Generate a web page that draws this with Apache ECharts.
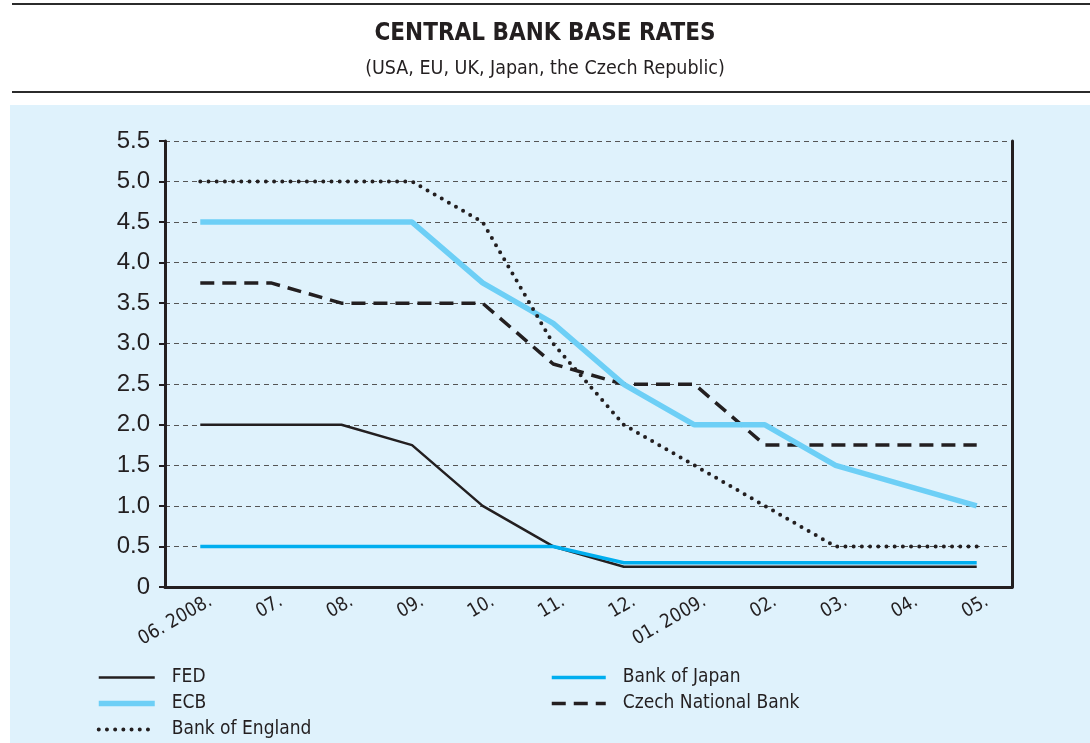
<!DOCTYPE html>
<html>
<head>
<meta charset="utf-8">
<script src="https://cdn.jsdelivr.net/npm/echarts@6/dist/echarts.min.js"></script>
<style>
  html, body { margin: 0; padding: 0; background: #fff; }
  #chart { width: 1090px; height: 743px; }
</style>
</head>
<body>
<div id="chart"></div>
<script>
// months on the x axis
const months = ['06. 2008.', '07.', '08.', '09.', '10.', '11.', '12.', '01. 2009.', '02.', '03.', '04.', '05.'];

// base rates, %
const fed = [2, 2, 2, 1.75, 1, 0.5, 0.25, 0.25, 0.25, 0.25, 0.25, 0.25];
const ecb = [4.5, 4.5, 4.5, 4.5, 3.75, 3.25, 2.5, 2, 2, 1.5, 1.25, 1];
const boe = [5, 5, 5, 5, 4.5, 3, 2, 1.5, 1, 0.5, 0.5, 0.5];
const boj = [0.5, 0.5, 0.5, 0.5, 0.5, 0.5, 0.3, 0.3, 0.3, 0.3, 0.3, 0.3];
const cnb = [3.75, 3.75, 3.5, 3.5, 3.5, 2.75, 2.5, 2.5, 1.75, 1.75, 1.75, 1.75];

const dark = '#231f20';
const narrow = "'Liberation Sans Narrow', 'DejaVu Sans Condensed', sans-serif";

const myChart = echarts.init(document.getElementById('chart'), null, {renderer: 'canvas'});

// both legend blocks share this look
const legendBase = {
  orient: 'vertical',
  top: 668,
  padding: 0,
  itemHeight: 14, itemGap: 7,
  itemStyle: {opacity: 0}, // hide the symbol dot, keep the line
  lineStyle: {width: 'inherit', type: 'inherit', cap: 'inherit'},
  textStyle: {fontFamily: narrow, fontSize: 19, color: dark, padding: [0, 0, 0, 12]}
};

const option = {
  animation: false,
  backgroundColor: '#ffffff',
  graphic: [
    // light blue panel
    {type: 'rect', z: -10, shape: {x: 10, y: 105, width: 1080, height: 640}, style: {fill: '#dff2fc'}},
    {type: 'line', shape: {x1: 12, y1: 4, x2: 1090, y2: 4}, style: {stroke: '#2b2b2b', lineWidth: 2}},
    {type: 'line', shape: {x1: 12, y1: 92, x2: 1090, y2: 92}, style: {stroke: '#2b2b2b', lineWidth: 2}}
  ],
  title: {
    text: 'CENTRAL BANK BASE RATES',
    subtext: '(USA, EU, UK, Japan, the Czech Republic)',
    left: 'center',
    top: 17,
    itemGap: 13,
    textStyle: {fontFamily: narrow, fontWeight: 'bold', fontSize: 24, color: dark},
    subtextStyle: {fontFamily: narrow, fontSize: 19.5, color: dark}
  },
  legend: [
    Object.assign({data: ['FED', 'ECB', 'Bank of England'], left: 96, itemWidth: 56}, legendBase),
    Object.assign({data: ['Bank of Japan', 'Czech National Bank'], left: 550, itemWidth: 54}, legendBase)
  ],
  grid: {left: 165, right: 78, top: 141, bottom: 156},
  xAxis: {
    type: 'category',
    data: months,
    boundaryGap: true,
    axisLine: {lineStyle: {color: dark, width: 3}},
    axisTick: {length: 8, lineStyle: {color: dark, width: 2}},
    axisLabel: {
      interval: 0,
      rotate: 30,
      margin: 19,
      padding: [0, -12, 0, 0],
      fontFamily: narrow,
      fontSize: 19,
      color: dark
    }
  },
  yAxis: [
    {
      type: 'value',
      min: 0, max: 5.5, interval: 0.5,
      axisLine: {show: true, lineStyle: {color: dark, width: 3}},
      axisTick: {show: true, length: 6, lineStyle: {color: dark, width: 2}},
      axisLabel: {
        margin: 15,
        fontFamily: "'Liberation Sans', Arial, sans-serif",
        fontSize: 24,
        color: dark,
        formatter: v => v === 0 ? '0' : v.toFixed(1)
      },
      splitLine: {lineStyle: {color: '#555', width: 1, type: [5, 4]}}
    },
    {
      // right border line
      type: 'value', position: 'right',
      min: 0, max: 5.5, interval: 0.5,
      axisLine: {show: true, lineStyle: {color: dark, width: 3}},
      axisTick: {show: false}, axisLabel: {show: false}, splitLine: {show: false}
    }
  ],
  series: [
    {
      name: 'Czech National Bank', type: 'line', data: cnb, symbol: 'none', z: 2,
      lineStyle: {color: dark, width: 3.5, type: [14, 8]}, itemStyle: {color: dark}
    },
    {
      name: 'ECB', type: 'line', data: ecb, symbol: 'none', z: 3,
      lineStyle: {color: '#6dcff6', width: 5.5}, itemStyle: {color: '#6dcff6'}
    },
    {
      name: 'FED', type: 'line', data: fed, symbol: 'none', z: 4,
      lineStyle: {color: dark, width: 2.5}, itemStyle: {color: dark}
    },
    {
      name: 'Bank of Japan', type: 'line', data: boj, symbol: 'none', z: 5,
      lineStyle: {color: '#00aeef', width: 3.5}, itemStyle: {color: '#00aeef'}
    },
    {
      name: 'Bank of England', type: 'line', data: boe, symbol: 'none', z: 6,
      lineStyle: {color: dark, width: 4, type: [0, 8.2], cap: 'round'}, itemStyle: {color: dark}
    }
  ]
};

myChart.setOption(option);
</script>
</body>
</html>
